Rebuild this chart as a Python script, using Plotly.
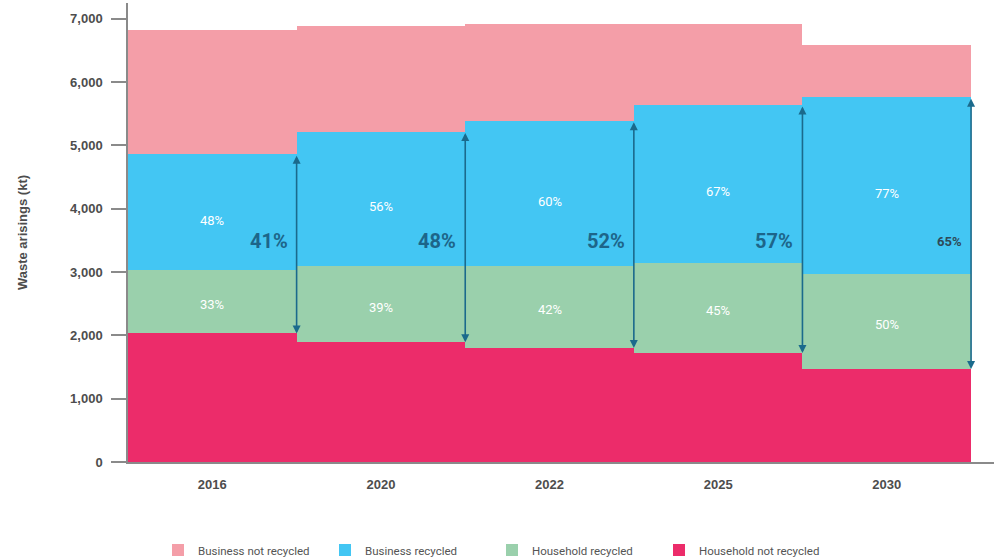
import plotly.graph_objects as go

years = ["2016", "2020", "2022", "2025", "2030"]
household_not_recycled = [2030, 1890, 1800, 1720, 1470]
household_recycled = [1000, 1210, 1300, 1430, 1500]
business_recycled = [1830, 2120, 2290, 2490, 2790]
business_not_recycled = [1960, 1665, 1530, 1285, 820]

household_rate_labels = ["33%", "39%", "42%", "45%", "50%"]
business_rate_labels = ["48%", "56%", "60%", "67%", "77%"]
total_rate_labels = ["41%", "48%", "52%", "57%", "65%"]

C_BNR = "#F49EA8"
C_BR = "#43C6F3"
C_HR = "#9AD0AC"
C_HNR = "#EC2C6A"
ARROW = "#1B6A8C"
GREY = "#4D4D4D"
AXIS = "#8A8A8A"

fig = go.Figure()
common = dict(x=years, width=1, marker_line_width=0, hoverinfo="skip")
fig.add_trace(go.Bar(name="Household not recycled", y=household_not_recycled,
                     marker_color=C_HNR, **common))
fig.add_trace(go.Bar(name="Household recycled", y=household_recycled,
                     marker_color=C_HR, **common))
fig.add_trace(go.Bar(name="Business recycled", y=business_recycled,
                     marker_color=C_BR, **common))
fig.add_trace(go.Bar(name="Business not recycled", y=business_not_recycled,
                     marker_color=C_BNR, **common))

label_font = dict(family="Roboto", size=13, color="white")
annotations = []
for i in range(len(years)):
    hnr = household_not_recycled[i]
    hr = household_recycled[i]
    br = business_recycled[i]
    # segment labels
    annotations.append(dict(x=i, y=hnr + hr / 2, xref="x", yref="y",
                            text=household_rate_labels[i], showarrow=False,
                            yshift=-3, font=label_font))
    annotations.append(dict(x=i, y=hnr + hr + br / 2, xref="x", yref="y",
                            text=business_rate_labels[i], showarrow=False,
                            yshift=-8, font=label_font))
    # double-headed arrow spanning recycled share
    bottom = hnr
    top = hnr + hr + br
    annotations.append(dict(
        x=i + 0.5, y=bottom, ax=i + 0.5, ay=top, xref="x", yref="y",
        axref="x", ayref="y", text="", showarrow=True, arrowhead=2,
        arrowside="end+start", arrowsize=1, arrowwidth=1.6, arrowcolor=ARROW,
    ))
    last = i == len(years) - 1
    annotations.append(dict(
        x=i + 0.5, y=3490, xref="x", yref="y", text=total_rate_labels[i],
        showarrow=False, xanchor="right", yanchor="middle", xshift=-7,
        font=dict(family="Roboto", size=13 if last else 20, weight="bold",
                  color="#2E4A58" if last else "#1D6589"),
    ))

fig.update_layout(
    width=994, height=559,
    margin=dict(l=128, r=0, t=3, b=97),
    paper_bgcolor="white", plot_bgcolor="white",
    barmode="stack", bargap=0,
    annotations=annotations,
    showlegend=True,
    legend=dict(orientation="h", traceorder="reversed",
                xref="container", x=158 / 994, xanchor="left",
                yref="container", y=9 / 559, yanchor="middle",
                font=dict(family="Roboto", size=11.5, color="#555555"),
                itemwidth=30, entrywidth=122),
    xaxis=dict(type="category", range=[-0.5, 4.636], showline=True, linecolor=AXIS,
               linewidth=1.5, ticks="", showgrid=False, zeroline=False,
               ticklabelstandoff=10,
               tickfont=dict(family="Liberation Sans", size=13, weight="bold", color=GREY)),
    yaxis=dict(range=[0, 7250], tickvals=[0, 1000, 2000, 3000, 4000, 5000, 6000, 7000],
               tickformat=",", ticks="outside", ticklen=15, tickwidth=1.5,
               tickcolor=AXIS, showline=True, linecolor=AXIS, linewidth=1.5,
               showgrid=False, zeroline=False, ticklabelstandoff=6,
               tickfont=dict(family="Liberation Sans", size=13, weight="bold", color=GREY),
               title=dict(text="Waste arisings (kt)", standoff=40,
                          font=dict(family="Liberation Sans", size=13, weight="bold",
                                    color=GREY))),
)

fig.write_html("out.html")
